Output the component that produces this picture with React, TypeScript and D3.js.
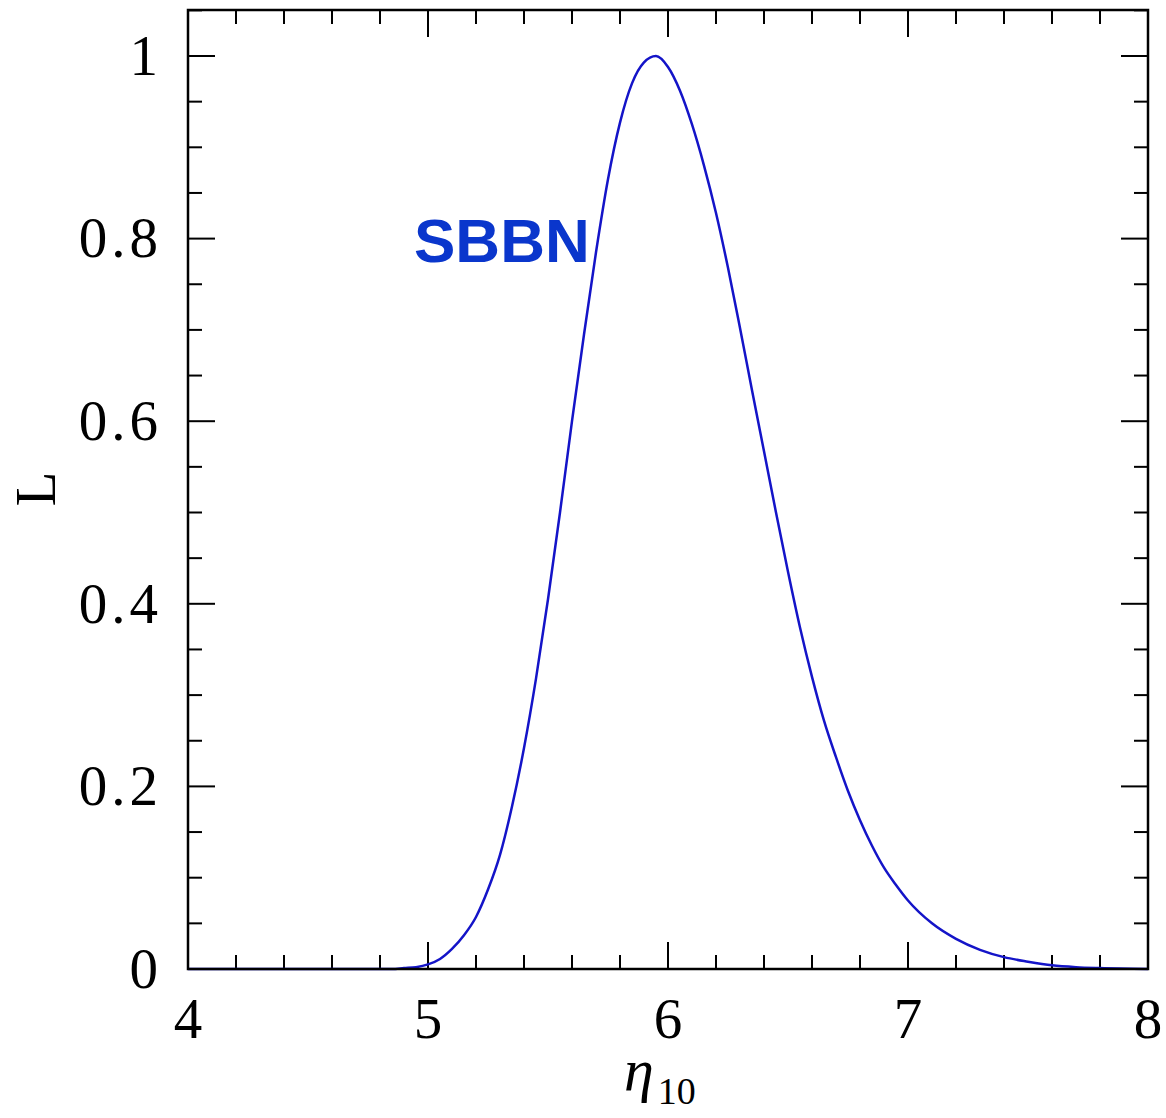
import { useRef, useEffect } from 'react';
import * as d3 from 'd3';

// likelihood curve
const etaValues = [4.0, 4.5, 4.85, 4.9, 4.95, 5.0, 5.05, 5.1, 5.15, 5.2, 5.25, 5.3, 5.35, 5.4, 5.45, 5.5, 5.55, 5.6, 5.65, 5.7, 5.75, 5.8, 5.85, 5.9, 5.95, 6.0, 6.05, 6.1, 6.15, 6.2, 6.25, 6.3, 6.35, 6.4, 6.45, 6.5, 6.55, 6.6, 6.65, 6.7, 6.75, 6.8, 6.85, 6.9, 6.95, 7.0, 7.1, 7.2, 7.3, 7.4, 7.5, 7.6, 7.7, 7.8, 8.0];
const likelihood = [0, 0, 0, 0.001, 0.002, 0.005, 0.011, 0.022, 0.037, 0.057, 0.087, 0.125, 0.178, 0.242, 0.318, 0.405, 0.5, 0.6, 0.695, 0.785, 0.865, 0.927, 0.97, 0.993, 1.0, 0.988, 0.962, 0.925, 0.88, 0.828, 0.768, 0.702, 0.634, 0.567, 0.5, 0.435, 0.374, 0.32, 0.272, 0.232, 0.195, 0.163, 0.135, 0.111, 0.092, 0.075, 0.05, 0.033, 0.021, 0.013, 0.008, 0.004, 0.002, 0.001, 0];

const xMajor = [4, 5, 6, 7, 8];
const xMinor = [4.2, 4.4, 4.6, 4.8, 5.2, 5.4, 5.6, 5.8, 6.2, 6.4, 6.6, 6.8, 7.2, 7.4, 7.6, 7.8];
const yMajor = [0, 0.2, 0.4, 0.6, 0.8, 1];
const yMajorLabels = ['0', '0.2', '0.4', '0.6', '0.8', '1'];
const yMinor = [0.05, 0.1, 0.15, 0.25, 0.3, 0.35, 0.45, 0.5, 0.55, 0.65, 0.7, 0.75, 0.85, 0.9, 0.95, 1.05];

export default function App() {
  const svgRef = useRef<SVGSVGElement>(null);

  useEffect(() => {
    if (!svgRef.current) return;
    const svg = d3.select(svgRef.current);
    svg.selectAll('*').remove();

    const width = 1166;
    const height = 1118;
    const left = 188, right = 1148, top = 10, bottom = 969;

    const x = d3.scaleLinear().domain([4, 8]).range([left, right]);
    const y = d3.scaleLinear().domain([0, 1]).range([bottom, 56]);

    svg.attr('width', width).attr('height', height);
    svg.append('rect').attr('width', width).attr('height', height).attr('fill', '#fff');

    const serif = "'Liberation Serif', 'DejaVu Serif', serif";
    const majorLen = 27, minorLen = 14;

    // ticks on all four sides, pointing inward
    const ticks = svg.append('g').attr('stroke', '#000').attr('stroke-width', 2);
    const addX = (vals: number[], len: number) => {
      vals.forEach(v => {
        ticks.append('line').attr('x1', x(v)).attr('x2', x(v)).attr('y1', bottom).attr('y2', bottom - len);
        ticks.append('line').attr('x1', x(v)).attr('x2', x(v)).attr('y1', top).attr('y2', top + len);
      });
    };
    const addY = (vals: number[], len: number) => {
      vals.forEach(v => {
        ticks.append('line').attr('y1', y(v)).attr('y2', y(v)).attr('x1', left).attr('x2', left + len);
        ticks.append('line').attr('y1', y(v)).attr('y2', y(v)).attr('x1', right).attr('x2', right - len);
      });
    };
    addX(xMajor, majorLen);
    addX(xMinor, minorLen);
    addY(yMajor, majorLen);
    addY(yMinor, minorLen);

    // curve
    const line = d3.line<number>()
      .x((d, i) => x(etaValues[i]))
      .y(d => y(d))
      .curve(d3.curveMonotoneX);
    svg.append('path')
      .datum(likelihood)
      .attr('d', line)
      .attr('fill', 'none')
      .attr('stroke', '#1414c8')
      .attr('stroke-width', 2.5);

    // frame
    svg.append('rect')
      .attr('x', left).attr('y', top)
      .attr('width', right - left).attr('height', bottom - top)
      .attr('fill', 'none').attr('stroke', '#000').attr('stroke-width', 2.5);

    // tick labels
    svg.append('g').selectAll('text')
      .data(xMajor)
      .join('text')
      .attr('x', d => x(d))
      .attr('y', 1038)
      .attr('text-anchor', 'middle')
      .attr('font-family', serif)
      .attr('font-size', 57)
      .text(d => String(d));

    svg.append('g').selectAll('text')
      .data(yMajor)
      .join('text')
      .attr('x', 162)
      .attr('y', d => y(d))
      .attr('dy', '0.33em')
      .attr('text-anchor', 'end')
      .attr('font-family', serif)
      .attr('font-size', 57)
      .attr('letter-spacing', 4)
      .text((d, i) => yMajorLabels[i]);

    // axis titles
    const xt = svg.append('text')
      .attr('x', 624).attr('y', 1090)
      .attr('font-family', serif)
      .attr('font-size', 60);
    xt.append('tspan').attr('font-style', 'italic').text('η');
    xt.append('tspan').attr('dy', 14).attr('dx', 4).attr('font-size', 38).text('10');

    svg.append('text')
      .attr('transform', 'translate(55,489) rotate(-90)')
      .attr('text-anchor', 'middle')
      .attr('font-family', serif)
      .attr('font-size', 57)
      .text('L');

    svg.append('text')
      .attr('x', 414).attr('y', 262)
      .attr('font-family', "'Liberation Sans', Arial, sans-serif")
      .attr('font-weight', 'bold')
      .attr('font-size', 62)
      .attr('fill', '#0a36cc')
      .text('SBBN');
  }, []);

  return (
    <div style={{ position: 'absolute', left: 0, top: 0 }}>
      <svg ref={svgRef} />
    </div>
  );
}
